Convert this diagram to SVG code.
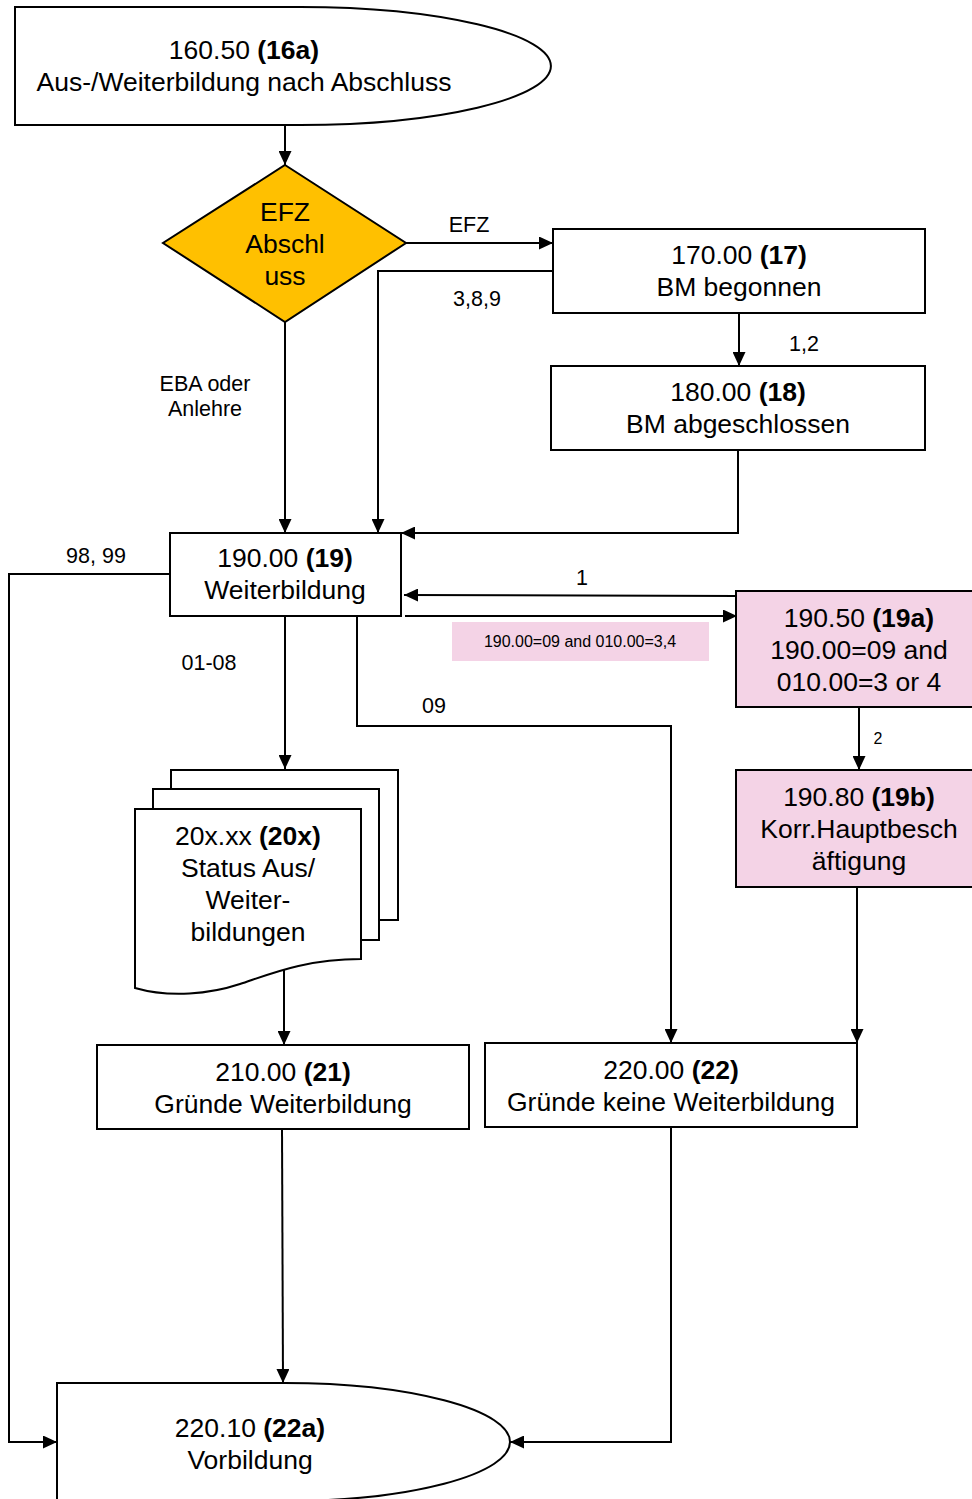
<svg xmlns="http://www.w3.org/2000/svg" width="972" height="1499" viewBox="0 0 972 1499">
  <style>
    .shape { fill: #ffffff; stroke: #000000; stroke-width: 2; }
    .pink { fill: #f4d3e6; stroke: #000000; stroke-width: 2; }
    .decision { fill: #ffc000; stroke: #000000; stroke-width: 2; }
    .t { font-family: "Liberation Sans", Arial, sans-serif; font-size: 26.5px; fill: #000000; text-anchor: middle; }
    .b { font-weight: bold; }
    .lbl { font-family: "Liberation Sans", Arial, sans-serif; font-size: 21.5px; fill: #000000; text-anchor: middle; }
    .sm { font-family: "Liberation Sans", Arial, sans-serif; font-size: 16px; fill: #000000; text-anchor: middle; }
    .edge { fill: none; stroke: #000000; stroke-width: 2; marker-end: url(#arrow); }
  </style>
  <defs>
    <marker id="arrow" viewBox="0 0 14 13" refX="14" refY="6.5" markerWidth="14" markerHeight="13" markerUnits="userSpaceOnUse" orient="auto">
      <path d="M0,0 L14,6.5 L0,13 Z" fill="#000000"/>
    </marker>
  </defs>

  <!-- connectors -->
  <g id="connectors">
    <path class="edge" d="M285,125 V165"/>
    <path class="edge" d="M406,243 H553"/>
    <path class="edge" d="M553,271 H378 V533"/>
    <path class="edge" d="M739,313 V366"/>
    <path class="edge" d="M738,450 V533 H401"/>
    <path class="edge" d="M285,322 V533"/>
    <path class="edge" d="M737,596 L404,595"/>
    <path class="edge" d="M405,616 H737"/>
    <path class="edge" d="M859,707 V770"/>
    <path class="edge" d="M857,887 V1043"/>
    <path class="edge" d="M357,616 V726 H671 V1043"/>
    <path class="edge" d="M285,616 V769"/>
    <path class="edge" d="M284,970 V1045"/>
    <path class="edge" d="M282,1129 L283,1383"/>
    <path class="edge" d="M671,1127 V1442 H510"/>
    <path class="edge" d="M170,574 H9 V1442 H57"/>
    <text class="lbl" x="469" y="232">EFZ</text>
    <text class="lbl" x="477" y="306">3,8,9</text>
    <text class="lbl" x="804" y="351">1,2</text>
    <text class="lbl" x="205" y="391">EBA oder</text>
    <text class="lbl" x="205" y="416">Anlehre</text>
    <text class="lbl" x="96" y="563">98, 99</text>
    <text class="lbl" x="582" y="585">1</text>
    <text class="lbl" x="209" y="670">01-08</text>
    <text class="lbl" x="434" y="713">09</text>
    <text class="sm" x="878" y="744">2</text>
    <rect x="452" y="622" width="257" height="39" fill="#f4d3e6"/>
    <text class="sm" x="580" y="647">190.00=09 and 010.00=3,4</text>
  </g>

  <!-- 160.50 start -->
  <g id="n16a">
    <path class="shape" d="M15,7 H300 A251,59 0 0 1 300,125 H15 Z"/>
    <text class="t" x="244" y="59">160.50 <tspan class="b">(16a)</tspan></text>
    <text class="t" x="244" y="91">Aus-/Weiterbildung nach Abschluss</text>
  </g>

  <!-- EFZ decision -->
  <g id="decision">
    <path class="decision" d="M285,165 L406,243 L285,322 L163,243 Z"/>
    <text class="t" x="285" y="221">EFZ</text>
    <text class="t" x="285" y="253">Abschl</text>
    <text class="t" x="285" y="285">uss</text>
  </g>

  <g id="n17">
    <rect class="shape" x="553" y="229" width="372" height="84"/>
    <text class="t" x="739" y="264">170.00 <tspan class="b">(17)</tspan></text>
    <text class="t" x="739" y="296">BM begonnen</text>
  </g>

  <g id="n18">
    <rect class="shape" x="551" y="366" width="374" height="84"/>
    <text class="t" x="738" y="401">180.00 <tspan class="b">(18)</tspan></text>
    <text class="t" x="738" y="433">BM abgeschlossen</text>
  </g>

  <g id="n19">
    <rect class="shape" x="170" y="533" width="231" height="83"/>
    <text class="t" x="285" y="567">190.00 <tspan class="b">(19)</tspan></text>
    <text class="t" x="285" y="599">Weiterbildung</text>
  </g>

  <g id="n19a">
    <rect class="pink" x="736" y="591" width="246" height="116"/>
    <text class="t" x="859" y="627">190.50 <tspan class="b">(19a)</tspan></text>
    <text class="t" x="859" y="659">190.00=09 and</text>
    <text class="t" x="859" y="691">010.00=3 or 4</text>
  </g>

  <g id="n19b">
    <rect class="pink" x="736" y="770" width="246" height="117"/>
    <text class="t" x="859" y="806">190.80 <tspan class="b">(19b)</tspan></text>
    <text class="t" x="859" y="838">Korr.Hauptbesch</text>
    <text class="t" x="859" y="870">äftigung</text>
  </g>

  <!-- multi-document stack -->
  <g id="n20x">
    <rect class="shape" x="171" y="770" width="227" height="150"/>
    <rect class="shape" x="153" y="789" width="226" height="151"/>
    <path class="shape" d="M135,809 H361 V959 C305,959 270,974 240,984 C210,994 170,998 135,988 Z"/>
    <text class="t" x="248" y="845">20x.xx <tspan class="b">(20x)</tspan></text>
    <text class="t" x="248" y="877">Status Aus/</text>
    <text class="t" x="248" y="909">Weiter-</text>
    <text class="t" x="248" y="941">bildungen</text>
  </g>

  <g id="n21">
    <rect class="shape" x="97" y="1045" width="372" height="84"/>
    <text class="t" x="283" y="1081">210.00 <tspan class="b">(21)</tspan></text>
    <text class="t" x="283" y="1113">Gründe Weiterbildung</text>
  </g>

  <g id="n22">
    <rect class="shape" x="485" y="1043" width="372" height="84"/>
    <text class="t" x="671" y="1079">220.00 <tspan class="b">(22)</tspan></text>
    <text class="t" x="671" y="1111">Gründe keine Weiterbildung</text>
  </g>

  <!-- 220.10 end -->
  <g id="n22a">
    <path class="shape" d="M57,1383 H285 A225,59 0 0 1 285,1501 H57 Z"/>
    <text class="t" x="250" y="1437">220.10 <tspan class="b">(22a)</tspan></text>
    <text class="t" x="250" y="1469">Vorbildung</text>
  </g>
</svg>
